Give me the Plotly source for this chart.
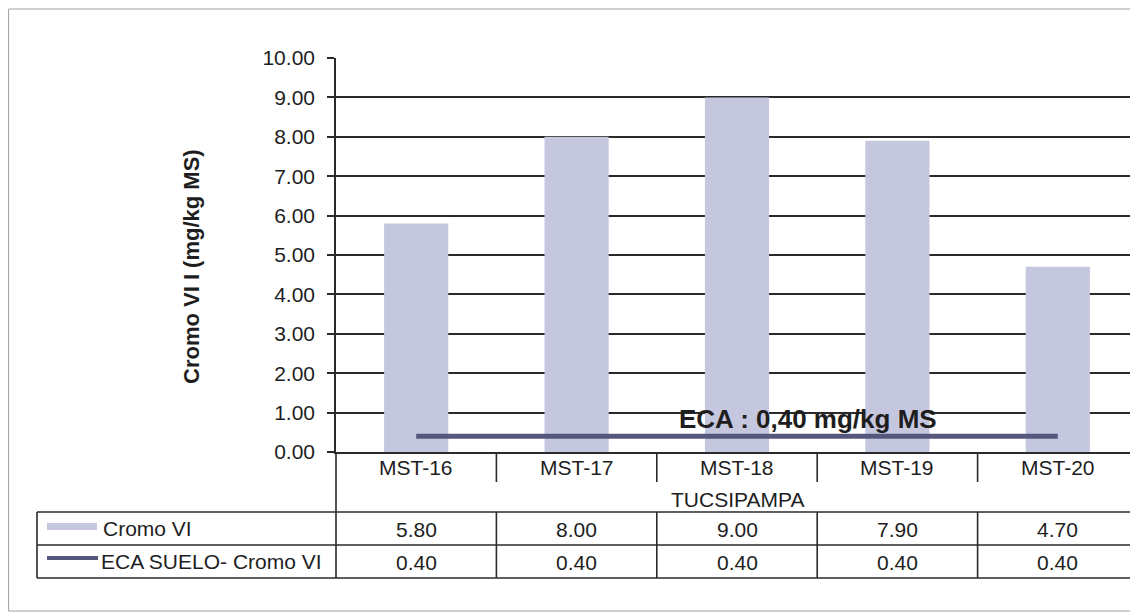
import plotly.graph_objects as go

# Datos
estaciones = ["MST-16", "MST-17", "MST-18", "MST-19", "MST-20"]
cromo_vi = [5.80, 8.00, 9.00, 7.90, 4.70]
eca_suelo = [0.40, 0.40, 0.40, 0.40, 0.40]
zona = "TUCSIPAMPA"
serie_barras = "Cromo VI"
serie_linea = "ECA SUELO- Cromo VI"
titulo_y = "Cromo VI I (mg/kg MS)"
nota_eca = "ECA : 0,40 mg/kg MS"

# la pagina tiene 8px de margen en el body, se descuentan aqui
OFF = 8
W, H = 1138 - OFF, 614 - OFF
# area del grafico en pixeles de pantalla
PX0, PX1, PY0, PY1 = 336, 1138, 58, 452

color_barra = "#c5c7df"
color_linea = "#55577c"
color_texto = "#1e1e1e"
color_rejilla = "#2a2a2a"
fuente = "Liberation Sans, Arial, sans-serif"
FS = 21


def px(x):
    return (x - PX0) / (PX1 - PX0)


def py(y):
    return (PY1 - y) / (PY1 - PY0)


fig = go.Figure()

fig.add_trace(go.Bar(
    x=estaciones, y=cromo_vi, name=serie_barras,
    width=0.4, marker=dict(color=color_barra, line=dict(width=0)),
    showlegend=False
))
fig.add_trace(go.Scatter(
    x=estaciones, y=eca_suelo, name=serie_linea, mode="lines",
    line=dict(color=color_linea, width=5),
    showlegend=False
))

linea = dict(color=color_rejilla, width=1.6)
shapes = []
# marco exterior
shapes.append(dict(type="rect", xref="paper", yref="paper",
                   x0=px(8.6), x1=px(1160), y0=py(9), y1=py(611),
                   line=dict(color="#a0a0a0", width=1)))
# lineas horizontales de la tabla
for yy in [512, 545, 578]:
    shapes.append(dict(type="line", xref="paper", yref="paper",
                       x0=px(37), x1=1, y0=py(yy), y1=py(yy), line=linea))
# prolongacion del eje y por la tabla
shapes.append(dict(type="line", xref="paper", yref="paper",
                   x0=0, x1=0, y0=0, y1=py(578), line=linea))
shapes.append(dict(type="line", xref="paper", yref="paper",
                   x0=px(37), x1=px(37), y0=py(512), y1=py(578), line=linea))
# separadores entre estaciones
for i in range(len(estaciones) - 1):
    for a, b in [(452, 482), (512, 578)]:
        shapes.append(dict(type="line", xref="x", yref="paper",
                           x0=i + 0.5, x1=i + 0.5, y0=py(a), y1=py(b),
                           line=linea))
# simbolos de leyenda
shapes.append(dict(type="rect", xref="paper", yref="paper",
                   x0=px(47), x1=px(97), y0=py(523), y1=py(530),
                   fillcolor=color_barra, line=dict(width=0)))
shapes.append(dict(type="line", xref="paper", yref="paper",
                   x0=px(47), x1=px(98), y0=py(558), y1=py(558),
                   line=dict(color=color_linea, width=4)))

txt = dict(size=FS, color=color_texto)
centro = dict(xanchor="center", yanchor="middle", showarrow=False)
anns = []
for i, est in enumerate(estaciones):
    anns.append(dict(x=est, y=py(468), xref="x", yref="paper", text=est,
                     font=txt, **centro))
    anns.append(dict(x=est, y=py(529), xref="x", yref="paper",
                     text=f"{cromo_vi[i]:.2f}", font=txt, **centro))
    anns.append(dict(x=est, y=py(562), xref="x", yref="paper",
                     text=f"{eca_suelo[i]:.2f}", font=txt, **centro))
anns.append(dict(x=estaciones[2], y=py(500), xref="x", yref="paper", text=zona,
                 font=txt, **centro))
anns.append(dict(x=px(101), y=py(528), xref="paper", yref="paper",
                 text=serie_barras, xanchor="left", yanchor="middle",
                 showarrow=False, font=txt))
anns.append(dict(x=px(99), y=py(561), xref="paper", yref="paper",
                 text=serie_linea, xanchor="left", yanchor="middle",
                 showarrow=False, font=txt))
anns.append(dict(x=px(808), y=py(419), xref="paper", yref="paper",
                 text=f"<b>{nota_eca}</b>",
                 font=dict(size=26, color=color_texto), **centro))
anns.append(dict(x=px(191), y=py(267), xref="paper", yref="paper",
                 text=f"<b>{titulo_y}</b>", textangle=-90,
                 font=dict(size=22, color=color_texto), **centro))

fig.update_layout(
    width=W, height=H,
    margin=dict(l=PX0 - OFF, r=1138 - PX1, t=PY0 - OFF, b=614 - PY1),
    paper_bgcolor="white", plot_bgcolor="white",
    font=dict(family=fuente, color=color_texto),
    xaxis=dict(range=[-0.5, 4.5], showticklabels=False, ticks="",
               showline=True, linecolor=color_rejilla, linewidth=1.6,
               showgrid=False, zeroline=False, fixedrange=True),
    yaxis=dict(range=[0, 10], dtick=1, tickformat=".2f",
               ticks="outside", ticklen=7, tickcolor=color_rejilla,
               tickwidth=1.5, ticklabelstandoff=8,
               showline=True, linecolor=color_rejilla, linewidth=1.6,
               showgrid=True, gridcolor=color_rejilla, gridwidth=1.5,
               zeroline=False, tickfont=dict(size=FS, color=color_texto),
               fixedrange=True),
    shapes=shapes, annotations=anns,
    bargap=0.6,
)

fig.write_html("out.html")
